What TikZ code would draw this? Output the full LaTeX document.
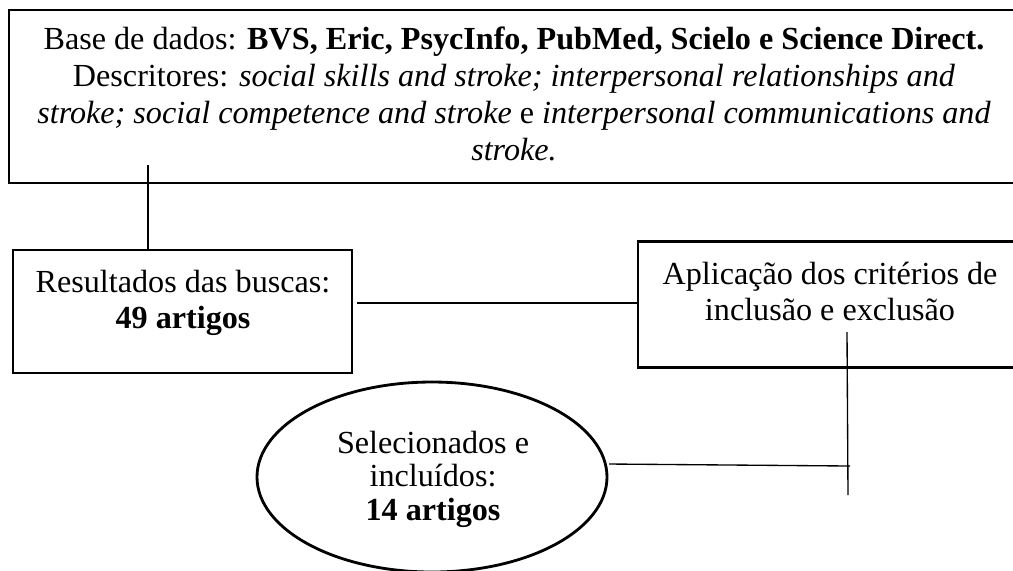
\documentclass[tikz,border=0pt]{standalone}
\usepackage{fontspec}
\setmainfont{Liberation Serif}
\usetikzlibrary{shapes.geometric}
\newcommand\pxu{0.37313pt}
\begin{document}
\begin{tikzpicture}[x=0.37313pt,y=-0.37313pt,
  boxshape/.style={draw,rectangle,line width=1.05pt,inner sep=0pt},
  ovalshape/.style={draw,ellipse,line width=1.05pt,inner sep=0pt},
  txt/.style={anchor=base,inner sep=0pt,font=\fontsize{12}{13.8}\selectfont},
  conn/.style={line width=0.5pt}]
\useasboundingbox (0,0) rectangle (1013,570);
% shapes
\node[boxshape,minimum width=1010*\pxu,minimum height=173*\pxu] (top) at (514,96.5) {};
\node[boxshape,minimum width=339*\pxu,minimum height=123*\pxu] (res) at (182.5,311.5) {};
\node[boxshape,minimum width=384*\pxu,minimum height=126*\pxu] (apl) at (830,304.5) {};
\node[ovalshape,minimum width=350*\pxu,minimum height=190*\pxu] (sel) at (432,477) {};
% texts
\node[txt] (t1) at (514,49) {Base de dados: \textbf{BVS, Eric, PsycInfo, PubMed, Scielo e Science Direct.}};
\node[txt] (t2) at (514,86) {Descritores: \textit{social skills and stroke; interpersonal relationships and}};
\node[txt] (t3) at (514,123) {\textit{stroke; social competence and stroke} e \textit{interpersonal communications and}};
\node[txt] (t4) at (514,160) {\textit{stroke.}};
\node[txt] (r1) at (183,292) {Resultados das buscas:};
\node[txt] (r2) at (183,328) {\textbf{49 artigos}};
\node[txt] (a1) at (830,284) {Aplicação dos critérios de};
\node[txt] (a2) at (830,320) {inclusão e exclusão};
\node[txt] (s1) at (433,453) {Selecionados e};
\node[txt] (s2) at (433,486) {incluídos:};
\node[txt] (s3) at (433,520) {\textbf{14 artigos}};
% connectors
\coordinate (c1) at (148,165);
\draw[conn] (c1) -- (c1 |- res.north);
\coordinate (c2) at (357,303);
\draw[conn] (c2) -- (c2 -| apl.west);
\coordinate (c3) at (847,332);
\coordinate (c4) at (848,495);
\draw[conn] (c3) -- (c4);
\coordinate (c5) at (609,464);
\coordinate (c6) at (850,466);
\draw[conn] (c5) -- (c6);
\end{tikzpicture}
\end{document}
